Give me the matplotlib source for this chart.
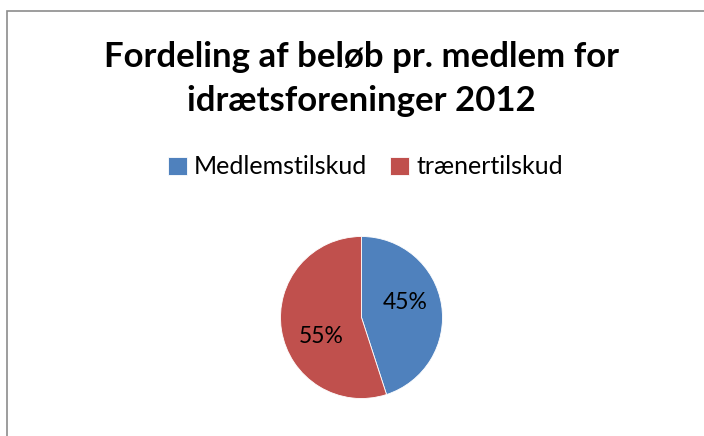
import matplotlib
matplotlib.use("Agg")
import matplotlib.pyplot as plt
from matplotlib.patches import Rectangle

title = "Fordeling af beløb pr. medlem for\nidrætsforeninger 2012"
categories = ["Medlemstilskud", "trænertilskud"]
values = [45, 55]
colors = ["#4F81BD", "#C0504D"]

plt.rcParams['font.family'] = ['Lato', 'DejaVu Sans']

fig = plt.figure(figsize=(7.04, 4.36), dpi=100)
fig.patch.set_facecolor("white")

# outer chart border (extends past right/bottom edge)
fig.add_artist(Rectangle((7/704, -0.05), 1.2, 1 - 11/436 + 0.05,
                         transform=fig.transFigure, fill=False,
                         edgecolor="#8c8c8c", linewidth=1.2))

fig.text(0.514, 1 - 79/436, title, ha="center", va="center",
         fontsize=25, fontweight="bold", linespacing=1.45)

ax = fig.add_axes([(361.5 - 81) / 704, 1 - (317.5 + 81) / 436, 162 / 704, 162 / 436])
wedges, texts, autotexts = ax.pie(values, colors=colors, startangle=90, counterclock=False,
                                  autopct="%d%%", pctdistance=0.57,
                                  wedgeprops=dict(linewidth=0.6, edgecolor="white"),
                                  textprops=dict(fontsize=16.5, color="black"))
ax.set_xlim(-1, 1)
ax.set_ylim(-1, 1)
ax.set_aspect("equal")
# nudge percentage labels as in the reference layout
autotexts[0].set_position((0.54, 0.19))
autotexts[1].set_position((-0.50, -0.24))

leg = fig.legend(wedges, categories, loc="center", bbox_to_anchor=(0.519, 1 - 167/436),
                 ncol=2, frameon=False, fontsize=18, handlelength=0.75, handleheight=0.75,
                 handletextpad=0.3, columnspacing=0.9)

fig.savefig("out.png", dpi=100)
